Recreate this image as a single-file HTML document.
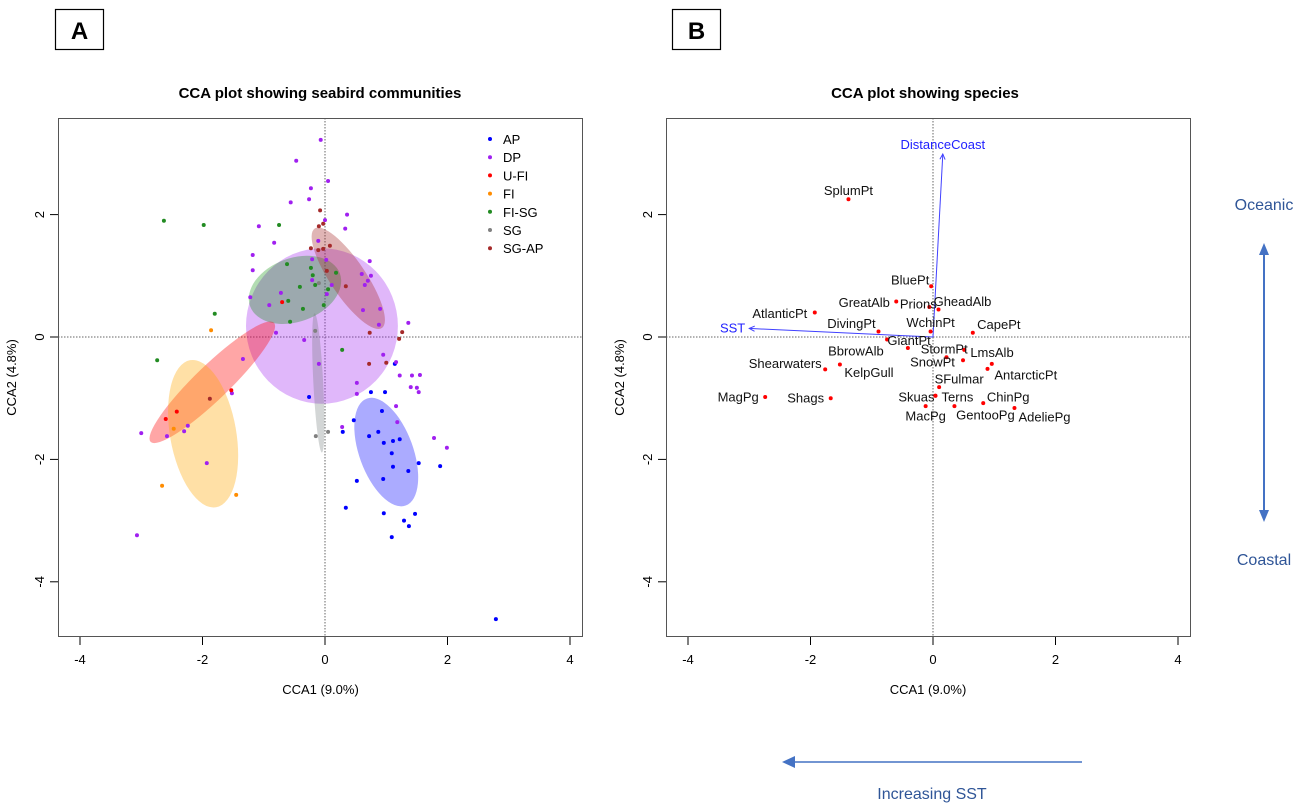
<!DOCTYPE html>
<html><head><meta charset="utf-8"><style>
body{margin:0;background:#fff;}
svg text{font-family:"Liberation Sans",Arial,sans-serif;}
</style></head><body>
<svg id="fig" width="1299" height="805" viewBox="0 0 1299 805" xmlns="http://www.w3.org/2000/svg">
<rect x="0" y="0" width="1299" height="805" fill="#fff"/>
<g><rect x="55.5" y="9.5" width="48" height="40" fill="#fff" stroke="#000" stroke-width="1.2"/><text x="79.5" y="39" font-size="24" font-weight="bold" text-anchor="middle">A</text></g>
<g><rect x="672.5" y="9.5" width="48" height="40" fill="#fff" stroke="#000" stroke-width="1.2"/><text x="696.5" y="39" font-size="24" font-weight="bold" text-anchor="middle">B</text></g>
<text x="320" y="98" font-size="15" font-weight="bold" text-anchor="middle">CCA plot showing seabird communities</text>
<text x="925" y="98" font-size="15" font-weight="bold" text-anchor="middle">CCA plot showing species</text>
<text x="1264" y="210" font-size="16" fill="#2f5597" text-anchor="middle">Oceanic</text>
<text x="1264" y="565" font-size="16" fill="#2f5597" text-anchor="middle">Coastal</text>
<g stroke="#4472c4" stroke-width="2" fill="#4472c4">
<line x1="1264" y1="252" x2="1264" y2="513"/><polygon points="1264,243 1259,255 1269,255" stroke="none"/><polygon points="1264,522 1259,510 1269,510" stroke="none"/></g>
<g><line x1="1082" y1="762" x2="792" y2="762" stroke="#4472c4" stroke-width="1.5"/><polygon points="782,762 795,756 795,768" fill="#4472c4"/></g>
<text x="932" y="799" font-size="16" fill="#2f5597" text-anchor="middle">Increasing SST</text>
<g id="pa"></g><g id="pb"></g>
</svg>
<script>
// ---- Panel A data ----
const groups=["AP","DP","U-FI","FI","FI-SG","SG","SG-AP"];
const groupColors=["#0000ff","#a020f0","#ff0000","#ff8c00","#228b22","#808080","#a52a2a"];
const apX=[-0.26,0.75,0.98,0.93,0.47,0.29,0.72,0.87,0.96,1.11,1.22,1.09,1.53,1.88,1.11,1.36,0.52,0.95,0.34,0.96,1.47,1.29,1.37,1.09,2.79,1.14];
const apY=[-0.98,-0.9,-0.9,-1.21,-1.36,-1.55,-1.62,-1.55,-1.73,-1.7,-1.67,-1.9,-2.06,-2.11,-2.12,-2.19,-2.35,-2.32,-2.79,-2.88,-2.89,-3.0,-3.09,-3.27,-4.61,-0.44];
const dpX=[-0.07,-0.47,0.05,-0.23,-0.56,-0.26,0.36,0,0.33,-1.08,-0.83,-1.18,-1.18,-1.22,-0.91,-0.72,-0.21,0.02,-0.11,0.73,0.6,0.75,0.7,0.65,0.9,0.62,0.88,1.36,-0.8,-0.34,0.95,1.16,1.22,1.42,1.55,-0.1,-1.34,0.03,0.11,-0.21,0.52,0.52,1.4,1.5,1.53,1.16,1.18,0.28,1.78,1.99,-3.0,-1.52,-2.24,-2.3,-3.07,-1.93,-2.58];
const dpY=[3.22,2.88,2.55,2.43,2.2,2.25,2.0,1.91,1.77,1.81,1.54,1.34,1.09,0.65,0.52,0.72,1.27,1.26,1.57,1.24,1.03,1.0,0.92,0.85,0.46,0.44,0.2,0.23,0.07,-0.05,-0.29,-0.41,-0.63,-0.63,-0.62,-0.44,-0.36,0.7,0.85,0.93,-0.75,-0.93,-0.82,-0.83,-0.9,-1.13,-1.39,-1.47,-1.65,-1.81,-1.57,-0.92,-1.45,-1.54,-3.24,-2.06,-1.62];
const ufiX=[-1.53,-2.6,-2.42,-0.7];
const ufiY=[-0.87,-1.34,-1.22,0.57];
const fiX=[-2.66,-1.45,-2.47,-1.86];
const fiY=[-2.43,-2.58,-1.5,0.11];
const fisgX=[-2.63,-1.98,-0.75,-1.8,-2.74,-0.62,-0.41,-0.6,-0.57,-0.36,-0.23,-0.2,-0.16,-0.02,0.05,0.28,0.18];
const fisgY=[1.9,1.83,1.83,0.38,-0.38,1.19,0.82,0.59,0.25,0.46,1.13,1.01,0.85,0.52,0.78,-0.21,1.05];
const sgX=[-0.15,0.05,-0.16,-0.1];
const sgY=[-1.62,-1.55,0.1,0.88];
const sgapX=[-0.08,-0.03,-0.1,-0.23,-0.11,0.08,-0.03,0.03,0.34,0.73,1.26,1.21,1.0,0.72,-1.88];
const sgapY=[2.07,1.85,1.81,1.45,1.42,1.49,1.44,1.08,0.83,0.07,0.08,-0.03,-0.42,-0.44,-1.01];
// ellipses: centre, radii (data units), rotation deg
const ellGroup=["DP","FI-SG","SG-AP","SG","U-FI","FI","AP"];
const ellCx=[-0.05,-0.49,0.38,-0.11,-1.84,-1.99,1.0];
const ellCy=[0.18,0.77,0.96,-0.75,-0.74,-1.58,-1.88];
const ellRx=[1.24,0.78,0.98,0.08,1.40,0.54,0.44];
const ellRy=[1.27,0.52,0.29,1.14,0.28,1.22,0.93];
const ellAng=[0,-20,56,-3,-44,-10,-20];
const ellFill=["rgba(160,32,240,0.32)","rgba(0,140,0,0.3)","rgba(165,42,42,0.35)","rgba(110,120,120,0.3)","rgba(255,0,0,0.35)","rgba(255,165,0,0.35)","rgba(0,0,255,0.33)"];
// ---- Panel B data ----
const species=["SplumPt","BluePt","GreatAlb","Prions","GheadAlb","AtlanticPt","WchinPt","CapePt","DivingPt","GiantPt","BbrowAlb","StormPt","SnowPt","LmsAlb","AntarcticPt","Shearwaters","KelpGull","SFulmar","MagPg","Shags","Skuas","Terns","MacPg","GentooPg","ChinPg","AdeliePg"];
const specX=[-1.38,-0.03,-0.6,-0.06,0.09,-1.93,-0.04,0.65,-0.89,-0.75,-0.41,0.51,0.22,0.49,0.96,-1.76,-1.52,0.10,-2.74,-1.67,0.04,0.04,-0.12,0.35,0.82,1.33];
const specY=[2.25,0.83,0.58,0.49,0.45,0.40,0.09,0.07,0.09,-0.04,-0.18,-0.21,-0.33,-0.38,-0.44,-0.53,-0.45,-0.82,-0.98,-1.0,-0.96,-0.96,-1.13,-1.13,-1.08,-1.16];
const extraDotX=[0.89];const extraDotY=[-0.52];
// label offsets in px (layout)
const labDx=[0,-21,-32,-11,24,-35,0,26,-27,22,-52,-20,-14,29,34,-40,29,20,-27,-25,-19,22,0,31,25,30];
const labDy=[-9,-6,1,-3,-8,1,-9,-8,-8,1,3,-1,5,-8,11,-6,8,-8,0,0,1,1,10,9,-6,9];
const envNames=["SST","DistanceCoast"];
const envX=[-3.0,0.16];
const envY=[0.14,2.99];
const xTicks=[-4,-2,0,2,4];
const yTicks=[-4,-2,0,2];

const NS="http://www.w3.org/2000/svg";
function mk(p,tag,at){const e=document.createElementNS(NS,tag);for(const k in at)e.setAttribute(k,at[k]);p.appendChild(e);return e;}
const Y0=337,SY=61.2,SX=61.25;
function sy(v){return Y0-v*SY;}
function axes(g,left,right,x0,name){
  const sx=v=>x0+v*SX;
  mk(g,"line",{x1:sx(0),x2:sx(0),y1:118,y2:637,stroke:"#666","stroke-dasharray":"1.5,1.5","stroke-width":1});
  mk(g,"line",{x1:left,x2:right,y1:Y0,y2:Y0,stroke:"#666","stroke-dasharray":"1.5,1.5","stroke-width":1});
  xTicks.forEach(t=>{const l=mk(g,"line",{x1:sx(t),x2:sx(t),y1:637,y2:645,stroke:"#000"});
    
    
    const tx=mk(g,"text",{x:sx(t),y:664,"font-size":13,"text-anchor":"middle"});tx.textContent=t;
    
    });
  yTicks.forEach(t=>{mk(g,"line",{x1:left-8,x2:left,y1:sy(t),y2:sy(t),stroke:"#000"});
    const tx=mk(g,"text",{x:0,y:0,"font-size":13,"text-anchor":"middle",transform:`translate(${left-14},${sy(t)}) rotate(-90)`});tx.textContent=t;
    
    });
  const xl=mk(g,"text",{x:(left+right)/2,y:694,"font-size":13,"text-anchor":"middle"});xl.textContent="CCA1 (9.0%)";
  
  
  const yl=mk(g,"text",{x:0,y:0,"font-size":13,"text-anchor":"middle",transform:`translate(${left-42},${(118+637)/2}) rotate(-90)`});yl.textContent="CCA2 (4.8%)";
  
  
  return sx;
}
// Panel A
const pa=document.getElementById("pa");


const sxA=axes(pa,58,583,325,"community");
ellCx.forEach((c,i)=>{const e=mk(pa,"ellipse",{cx:sxA(c),cy:sy(ellCy[i]),rx:ellRx[i]*SX,ry:ellRy[i]*SY,fill:ellFill[i],transform:`rotate(${ellAng[i]} ${sxA(c)} ${sy(ellCy[i])})`});
  
  });
const ptsX=[apX,dpX,ufiX,fiX,fisgX,sgX,sgapX],ptsY=[apY,dpY,ufiY,fiY,fisgY,sgY,sgapY];
ptsX.forEach((xs,gi)=>xs.forEach((x,j)=>{const c=mk(pa,"circle",{cx:sxA(x),cy:sy(ptsY[gi][j]),r:2,fill:groupColors[gi]});
  
  }));
mk(pa,"rect",{x:58.5,y:118.5,width:524,height:518,fill:"none",stroke:"#555"});
groups.forEach((gname,i)=>{const lg=mk(pa,"g",{});
  
  
  mk(lg,"circle",{cx:490,cy:139+i*18.2,r:2,fill:groupColors[i]});
  const t=mk(lg,"text",{x:503,y:144+i*18.2,"font-size":13});t.textContent=gname;});
// Panel B
const pb=document.getElementById("pb");


const sxB=axes(pb,666,1190,933,"species");
envNames.forEach((n,i)=>{const x2=sxB(envX[i]),y2=sy(envY[i]);
  const l=mk(pb,"line",{x1:sxB(0),y1:sy(0),x2:x2,y2:y2,stroke:"#4040ff","stroke-width":1});
  
  
  const a=Math.atan2(y2-sy(0),x2-sxB(0));
  const h=mk(pb,"polyline",{points:`${x2-6*Math.cos(a-0.45)},${y2-6*Math.sin(a-0.45)} ${x2},${y2} ${x2-6*Math.cos(a+0.45)},${y2-6*Math.sin(a+0.45)}`,fill:"none",stroke:"#4040ff"});
  const t=mk(pb,"text",{"font-size":13,fill:"#2020ff"});t.textContent=n;
  if(i==0){t.setAttribute("x",x2-4);t.setAttribute("y",y2+4);t.setAttribute("text-anchor","end");}
  else{t.setAttribute("x",x2);t.setAttribute("y",y2-5);t.setAttribute("text-anchor","middle");}
  
  });
species.forEach((s,i)=>{const x=sxB(specX[i]),y=sy(specY[i]);
  const c=mk(pb,"circle",{cx:x,cy:y,r:2,fill:"#ff0000"});
  
  
  const t=mk(pb,"text",{x:x+labDx[i],y:y+labDy[i]+4.5,"font-size":13,"text-anchor":"middle",fill:"#111"});t.textContent=s;
  
  });
extraDotX.forEach((x,i)=>{const c=mk(pb,"circle",{cx:sxB(x),cy:sy(extraDotY[i]),r:2,fill:"#ff0000"});
  
  });
mk(pb,"rect",{x:666.5,y:118.5,width:524,height:518,fill:"none",stroke:"#555"});
</script>
</body></html>
